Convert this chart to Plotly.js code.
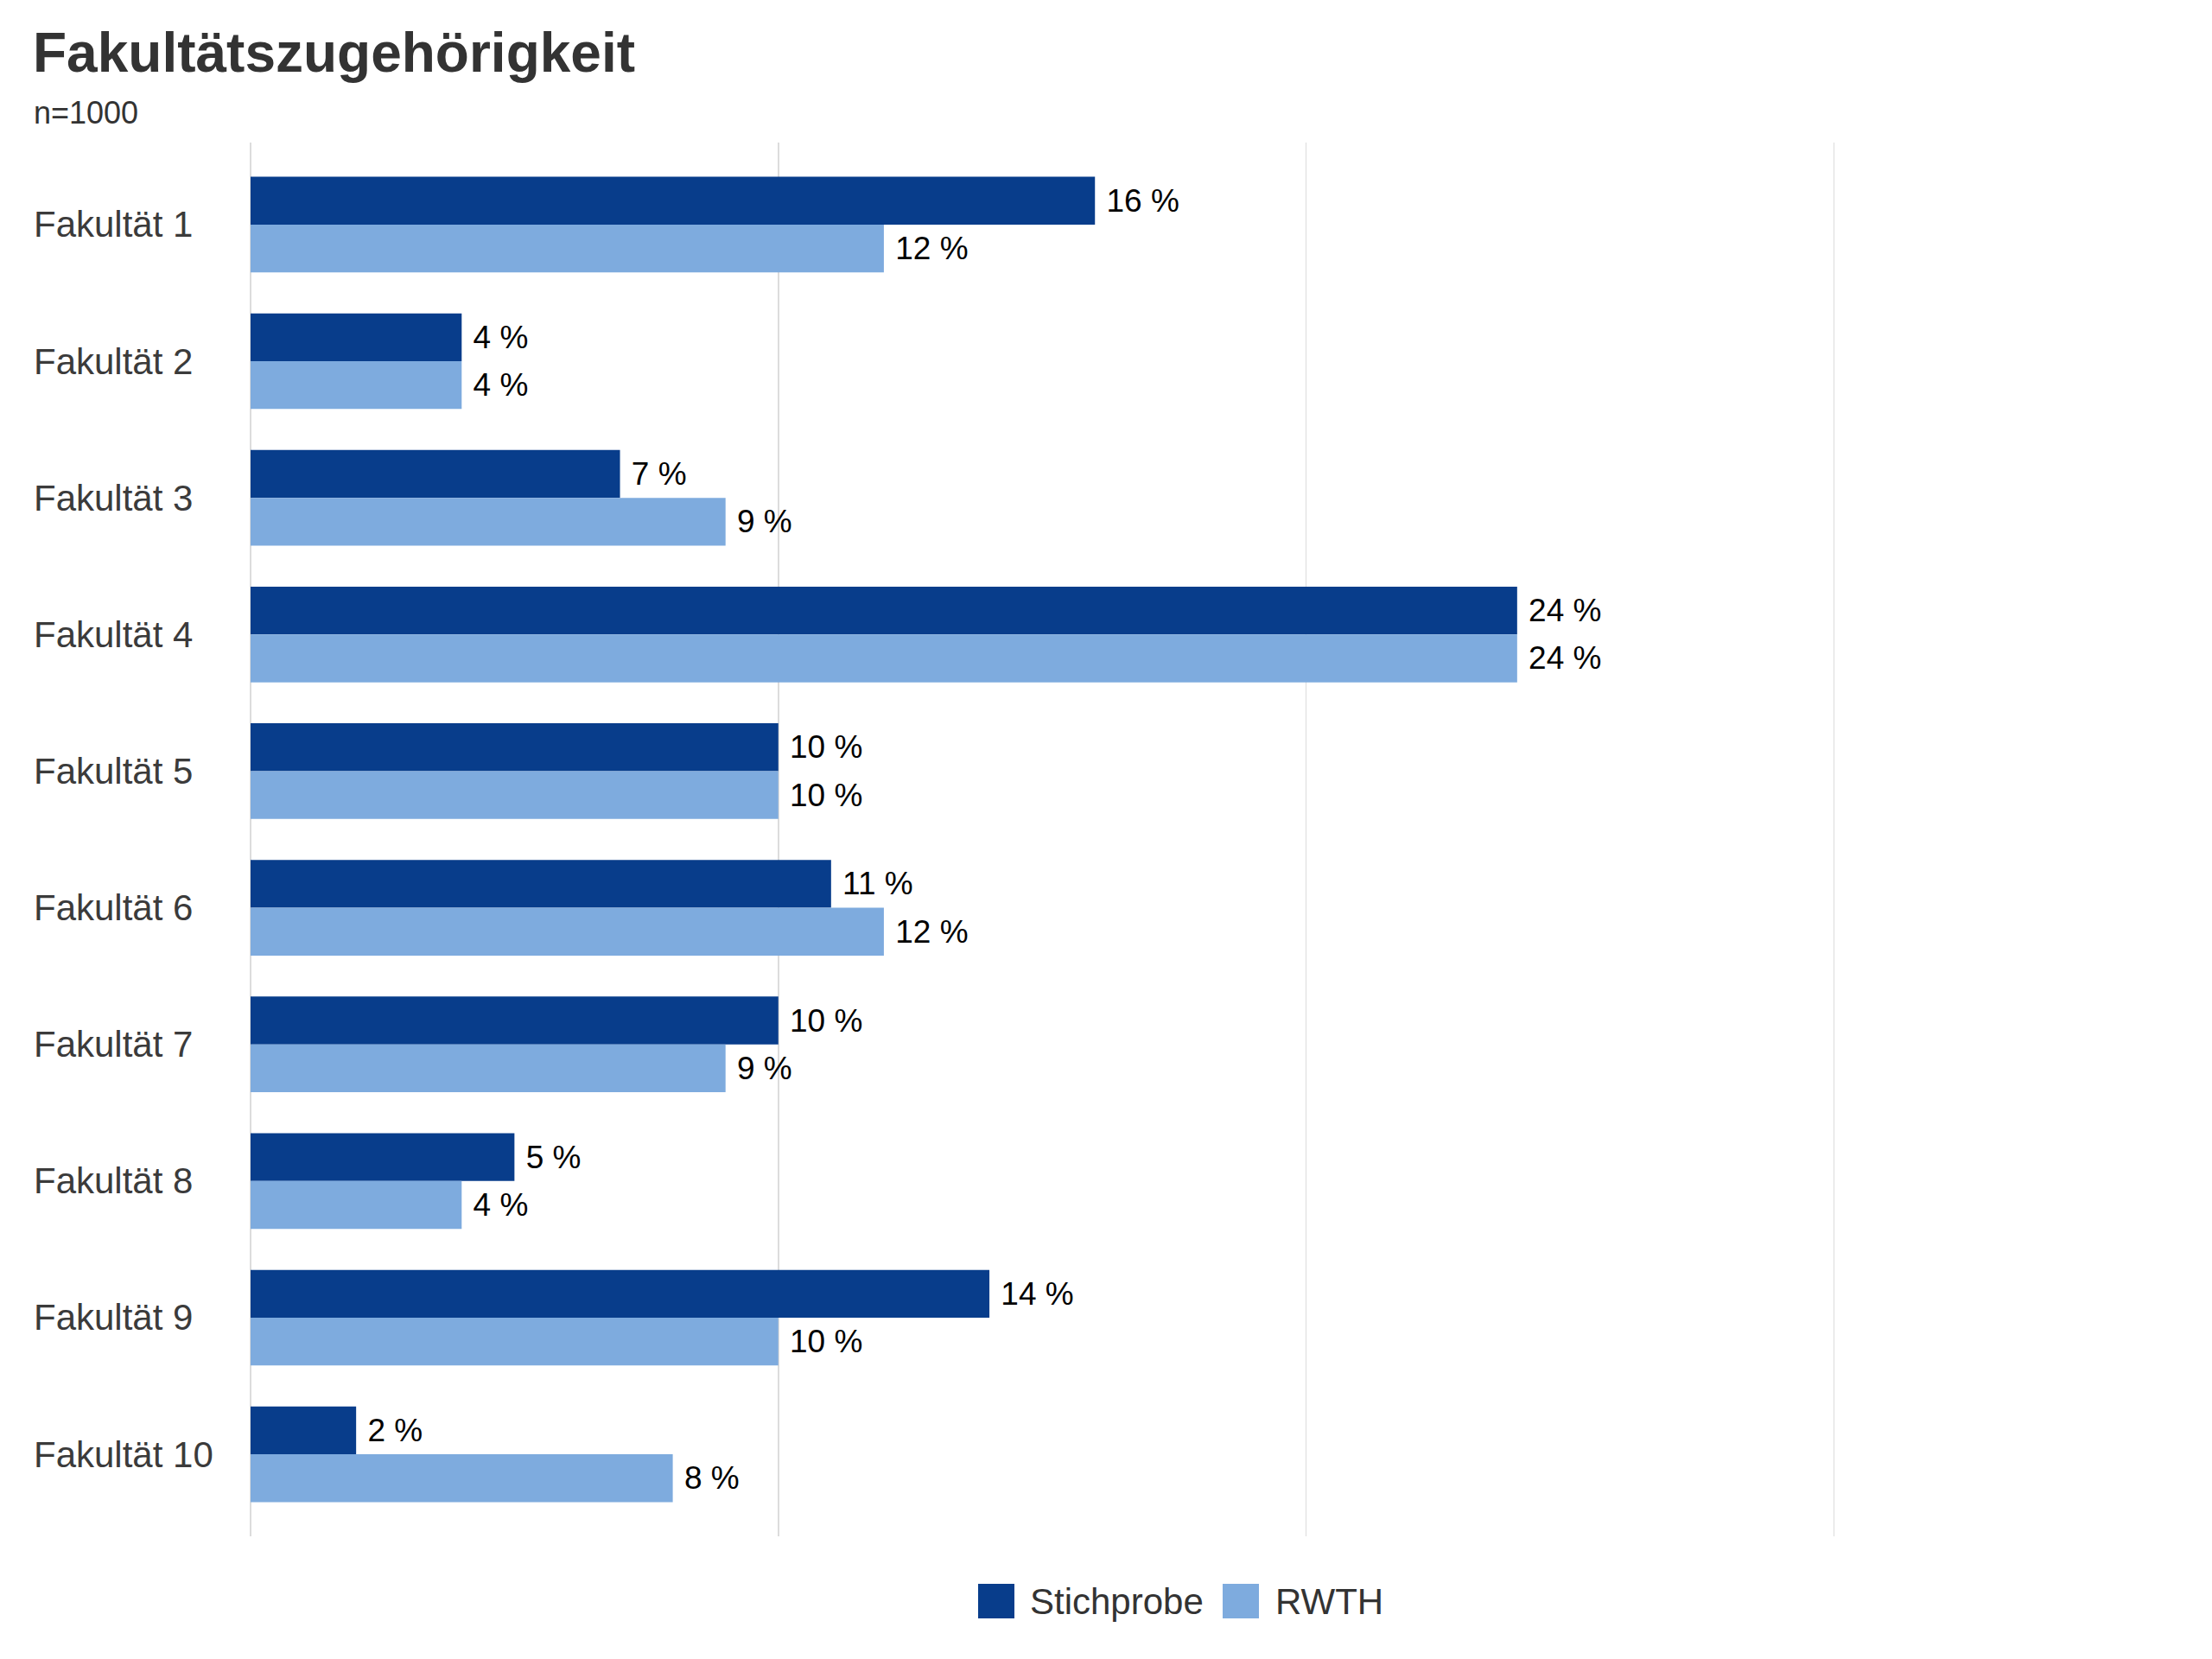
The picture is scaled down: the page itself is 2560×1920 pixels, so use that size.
<!DOCTYPE html>
<html>
<head>
<meta charset="utf-8">
<script src="https://cdn.plot.ly/plotly-3.0.1.min.js"></script>
<style>
  html, body { margin: 0; padding: 0; background: #fff; }
  #chart { width: 2560px; height: 1920px; }
</style>
</head>
<body>
<div id="chart"></div>
<script>
var faculties = ["Fakultät 1", "Fakultät 2", "Fakultät 3", "Fakultät 4", "Fakultät 5",
                 "Fakultät 6", "Fakultät 7", "Fakultät 8", "Fakultät 9", "Fakultät 10"];
var stichprobe = [16, 4, 7, 24, 10, 11, 10, 5, 14, 2];
var rwth = [12, 4, 9, 24, 10, 12, 9, 4, 10, 8];
var seriesNames = ["Stichprobe", "RWTH"];
var seriesColors = ["#083d8b", "#7eabde"];

var FONT = "'Liberation Sans', Arial, Helvetica, sans-serif";

// plot area in pixels
var L = 290, R = 114, T = 165, B = 142;
var W = 2560 - L - R, H = 1920 - T - B;
function px(X) { return (X - L) / W; }
function py(Y) { return (1920 - B - Y) / H; }

function barTrace(name, values, color) {
  return {
    type: 'bar',
    orientation: 'h',
    name: name,
    y: faculties,
    x: values,
    marker: { color: color, line: { width: 0 } },
    texttemplate: '\u00a0%{x} %',
    textposition: 'outside',
    textfont: { family: FONT, size: 37, color: '#000' },
    constraintext: 'none',
    cliponaxis: false,
    hoverinfo: 'x+y',
    showlegend: false
  };
}

var data = [
  barTrace(seriesNames[0], stichprobe, seriesColors[0]),
  barTrace(seriesNames[1], rwth, seriesColors[1])
];

var annotations = [];
faculties.forEach(function (f) {
  annotations.push({
    text: f, xref: 'paper', yref: 'y', x: px(37), y: f,
    xanchor: 'left', yanchor: 'middle', showarrow: false,
    font: { family: FONT, size: 42, color: '#3b3b3b' }
  });
});
annotations.push({
  text: 'n=1000', xref: 'paper', yref: 'paper', x: px(37), y: py(130),
  xanchor: 'left', yanchor: 'middle', showarrow: false,
  font: { family: FONT, size: 36, color: '#333' }
});

// legend drawn by hand so the keys get the large squares
var shapes = [];
var legendKeys = [1132, 1415];
var legendText = [1190, 1474];
seriesNames.forEach(function (n, i) {
  shapes.push({
    type: 'rect', xref: 'paper', yref: 'paper',
    x0: px(legendKeys[i]), x1: px(legendKeys[i] + 42),
    y0: py(1873), y1: py(1833),
    fillcolor: seriesColors[i], line: { width: 0 }
  });
  annotations.push({
    text: n, xref: 'paper', yref: 'paper', x: px(legendText[i]), y: py(1853),
    xanchor: 'left', yanchor: 'middle', showarrow: false,
    font: { family: FONT, size: 42, color: '#333' }
  });
});

var layout = {
  width: 2560,
  height: 1920,
  paper_bgcolor: '#fff',
  plot_bgcolor: '#fff',
  margin: { l: L, r: R, t: T, b: B },
  title: {
    text: '<b>Fakultätszugehörigkeit</b>',
    xref: 'container', yref: 'container',
    x: 38 / 2560, xanchor: 'left',
    y: 1 - 61 / 1920, yanchor: 'middle',
    font: { family: FONT, size: 64, color: '#333' }
  },
  barmode: 'group',
  bargap: 0.3,
  bargroupgap: 0,
  xaxis: {
    range: [0, 35.3],
    dtick: 10,
    showgrid: true,
    gridcolor: '#dcdcdc',
    gridwidth: 1.5,
    zeroline: true,
    zerolinecolor: '#dcdcdc',
    zerolinewidth: 1.5,
    showticklabels: false,
    ticks: '',
    showline: false,
    fixedrange: true
  },
  yaxis: {
    type: 'category',
    categoryorder: 'array',
    categoryarray: faculties,
    range: [9.6, -0.6],
    showticklabels: false,
    showgrid: false,
    zeroline: false,
    ticks: '',
    showline: false,
    fixedrange: true
  },
  showlegend: false,
  annotations: annotations,
  shapes: shapes
};

Plotly.newPlot('chart', data, layout, { displayModeBar: false, staticPlot: true });
</script>
</body>
</html>
